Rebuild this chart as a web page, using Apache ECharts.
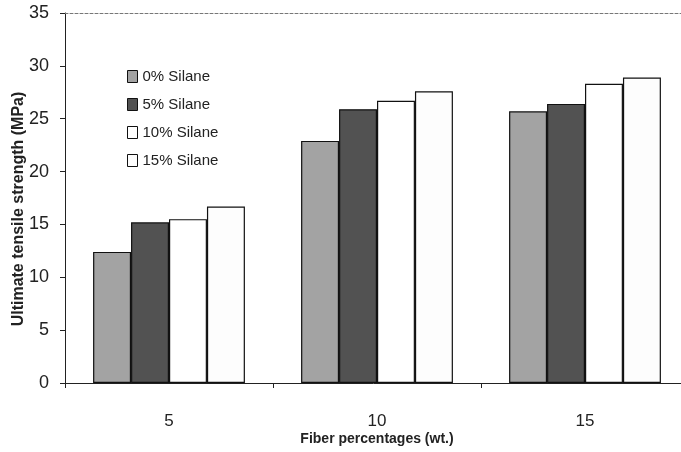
<!DOCTYPE html>
<html>
<head>
	<meta charset="utf-8" />
	<title>Ultimate tensile strength</title>
	<style type="text/css">
	*{margin: 0;padding: 0;}
	#main{width: 681px;height: 452px;background: #fff;}
	</style>
</head>
<body>
<div id="main"></div>
<script src="https://cdn.jsdelivr.net/npm/echarts@6/dist/echarts.min.js"></script>
<script type="text/javascript">
	// data
	var categories = ['5', '10', '15'];
	var silane0 = [12.4, 22.9, 25.7];
	var silane5 = [15.2, 25.9, 26.4];
	var silane10 = [15.5, 26.7, 28.3];
	var silane15 = [16.7, 27.6, 28.9];
	var names = ['0% Silane', '5% Silane', '10% Silane', '15% Silane'];
	var fills = ['#a3a3a3', '#525252', '#ffffff', '#fdfdfd'];

	var font = 'Liberation Sans, Arial, sans-serif';

	var bar = function(i, data) {
		return {
			name: names[i],
			type: 'bar',
			barGap: 0,
			barCategoryGap: '27%',
			data: data,
			itemStyle: {color: fills[i], borderColor: '#111', borderWidth: 1.2}
		};
	};

	var option = {
		animation: false,
		textStyle: {fontFamily: font},
		grid: {left: 65, width: 624, top: 13, height: 370, outerBoundsMode: 'none', containLabel: false},
		legend: {
			orient: 'vertical',
			left: 122,
			top: 64,
			itemWidth: 10,
			itemHeight: 12,
			itemGap: 13,
			icon: 'rect',
			data: names,
			textStyle: {fontSize: 15, color: '#222', fontFamily: font},
			itemStyle: {borderColor: '#111', borderWidth: 1}
		},
		xAxis: [{
			type: 'category',
			data: categories,
			name: 'Fiber percentages (wt.)',
			nameLocation: 'middle',
			nameGap: 49,
			nameMoveOverlap: false,
			nameTextStyle: {fontSize: 14, fontWeight: 'bold', color: '#222'},
			axisLine: {lineStyle: {color: '#222', width: 1}},
			axisTick: {show: true, length: 5, lineStyle: {color: '#222'}},
			axisLabel: {fontSize: 17, color: '#222', margin: 30}
		}, {
			type: 'category',
			data: categories,
			position: 'top',
			axisLine: {lineStyle: {color: '#777', width: 1, type: [3, 2]}},
			axisTick: {show: false},
			axisLabel: {show: false}
		}],
		yAxis: {
			type: 'value',
			min: 0,
			max: 35,
			interval: 5,
			name: 'Ultimate tensile strength (MPa)',
			nameLocation: 'middle',
			nameGap: 38,
			nameMoveOverlap: false,
			nameTextStyle: {fontSize: 16, fontWeight: 'bold', color: '#222', padding: [0, 22, 0, 0]},
			axisLine: {show: true, lineStyle: {color: '#222', width: 1}},
			axisTick: {show: true, length: 5, lineStyle: {color: '#222'}},
			axisLabel: {fontSize: 18, color: '#222', margin: 16},
			splitLine: {show: false}
		},
		series: [
			bar(0, silane0),
			bar(1, silane5),
			bar(2, silane10),
			bar(3, silane15)
		]
	};

	var chart = echarts.init(document.getElementById('main'));
	chart.setOption(option);
</script>
</body>
</html>
